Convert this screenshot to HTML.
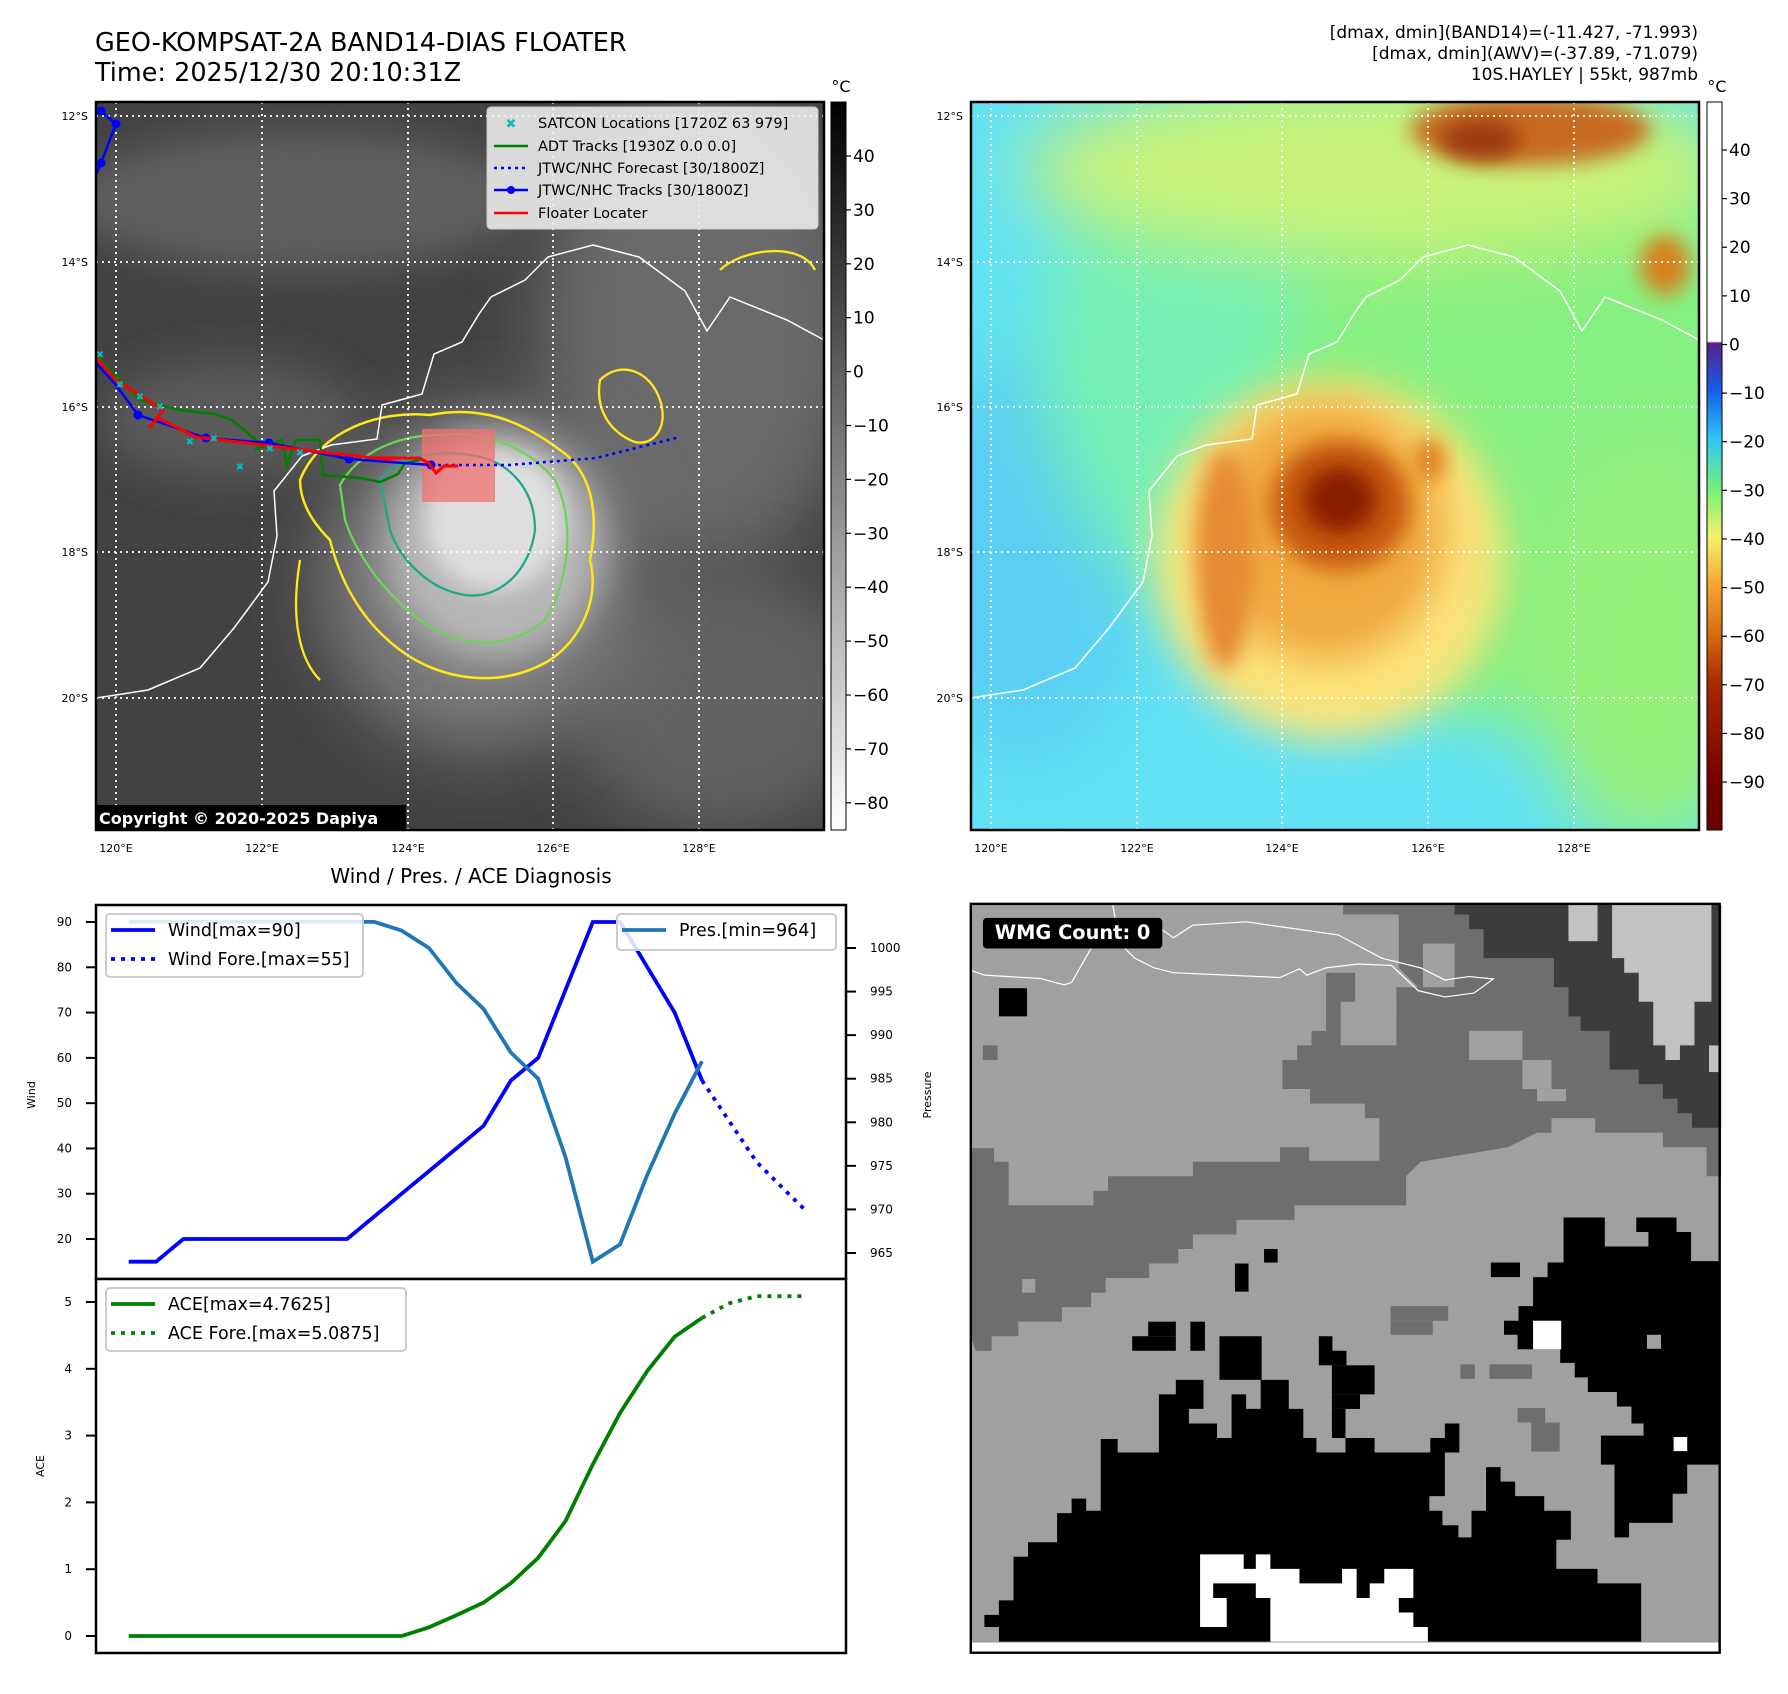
<!DOCTYPE html>
<html><head><meta charset="utf-8"><title>GEO-KOMPSAT-2A Floater</title>
<style>
html,body{margin:0;padding:0;background:#fff;}
body{width:1788px;height:1690px;overflow:hidden;font-family:"DejaVu Sans","Liberation Sans",sans-serif;}
svg text{font-family:"DejaVu Sans","Liberation Sans",sans-serif;}
</style></head>
<body>
<svg id="fig" width="1788" height="1690" viewBox="0 0 1788 1690" xmlns="http://www.w3.org/2000/svg">
<defs>
  <filter id="b10" x="-50%" y="-50%" width="200%" height="200%"><feGaussianBlur stdDeviation="10"/></filter>
  <filter id="b20" x="-50%" y="-50%" width="200%" height="200%"><feGaussianBlur stdDeviation="20"/></filter>
  <filter id="b35" x="-50%" y="-50%" width="200%" height="200%"><feGaussianBlur stdDeviation="35"/></filter>
  <clipPath id="clipL"><rect x="96" y="102" width="728" height="728"/></clipPath>
  <clipPath id="clipR"><rect x="971" y="102" width="728" height="728"/></clipPath>
  <linearGradient id="cbL" x1="0" y1="0" x2="0" y2="1">
    <stop offset="0" stop-color="#000"/><stop offset="1" stop-color="#fff"/>
  </linearGradient>
  <linearGradient id="cbR" x1="0" y1="0" x2="0" y2="1">
    <stop offset="0" stop-color="#fff"/><stop offset="0.329" stop-color="#fff"/>
    <stop offset="0.331" stop-color="#5a1f8f"/><stop offset="0.398" stop-color="#1560e8"/>
    <stop offset="0.464" stop-color="#30c8f5"/><stop offset="0.531" stop-color="#72f07a"/>
    <stop offset="0.598" stop-color="#f5f26a"/><stop offset="0.665" stop-color="#f5a530"/>
    <stop offset="0.732" stop-color="#d86a10"/><stop offset="0.798" stop-color="#a82a00"/>
    <stop offset="0.932" stop-color="#760000"/><stop offset="1" stop-color="#6a0000"/>
  </linearGradient>
</defs>

<!-- Titles -->
<text x="95" y="51" font-size="25.5" fill="#000">GEO-KOMPSAT-2A BAND14-DIAS FLOATER</text>
<text x="95" y="81" font-size="25.5" fill="#000">Time: 2025/12/30 20:10:31Z</text>
<g font-size="17" fill="#000" text-anchor="end">
  <text x="1698" y="38">[dmax, dmin](BAND14)=(-11.427, -71.993)</text>
  <text x="1698" y="59">[dmax, dmin](AWV)=(-37.89, -71.079)</text>
  <text x="1698" y="80">10S.HAYLEY | 55kt, 987mb</text>
</g>

<!-- LEFT MAP -->
<g clip-path="url(#clipL)">
  <rect x="96" y="102" width="728" height="728" fill="#424242"/>
  <ellipse cx="300" cy="200" rx="230" ry="70" fill="#686868" filter="url(#b20)" opacity="0.8"/>
  <ellipse cx="700" cy="330" rx="160" ry="240" fill="#6a6a6a" filter="url(#b35)"/>
  <ellipse cx="720" cy="700" rx="150" ry="130" fill="#646464" filter="url(#b35)"/>
  <ellipse cx="230" cy="420" rx="130" ry="60" fill="#5a5a5a" filter="url(#b20)"/>
  <ellipse cx="480" cy="580" rx="160" ry="170" fill="#7a7a7a" filter="url(#b35)"/>
  <ellipse cx="495" cy="545" rx="110" ry="115" fill="#b8b8b8" filter="url(#b20)"/>
  <ellipse cx="495" cy="520" rx="70" ry="70" fill="#dedede" filter="url(#b10)"/>
  <!-- contours -->
  <path d="M300,480 C320,430 380,410 430,415 C480,405 520,420 560,450 C590,470 600,510 590,560 C600,600 580,640 550,660 C500,690 440,680 400,650 C360,620 340,580 330,540 C310,520 300,500 300,480Z" fill="none" stroke="#ffe81a" stroke-width="2.5"/>
  <path d="M340,485 C360,450 400,435 440,435 C490,430 530,450 555,480 C575,520 570,580 545,620 C510,650 460,650 420,620 C380,590 355,550 345,520Z" fill="none" stroke="#6fd25a" stroke-width="2.3"/>
  <path d="M380,480 C400,455 440,450 470,455 C510,460 535,490 535,530 C530,570 500,600 465,595 C430,590 400,560 390,530Z" fill="none" stroke="#20a888" stroke-width="2.3"/>
  <path d="M600,380 C620,360 650,370 660,400 C670,430 650,450 630,440 C610,430 595,410 600,380Z" fill="none" stroke="#ffe81a" stroke-width="2.3"/>
  <path d="M300,560 C290,620 300,660 320,680" fill="none" stroke="#ffe81a" stroke-width="2.3"/>
  <path d="M720,270 C740,250 800,240 815,270" fill="none" stroke="#ffe81a" stroke-width="2.3"/>
  <!-- coastline -->
  <polyline points="96,698 148,690 200,668 234,628 268,582 277,536 274,491 302,456 331,445 377,439 382,405 422,394 434,354 462,342 479,314 491,297 525,280 548,257 593,245 639,257 685,291 707,331 730,297 787,320 824,340" fill="none" stroke="#fff" stroke-width="1.5"/>
  <!-- gridlines -->
  <g stroke="#fff" stroke-width="1.8" stroke-dasharray="2,4">
    <line x1="116" y1="102" x2="116" y2="830"/><line x1="262" y1="102" x2="262" y2="830"/><line x1="408" y1="102" x2="408" y2="830"/><line x1="553" y1="102" x2="553" y2="830"/><line x1="699" y1="102" x2="699" y2="830"/>
    <line x1="96" y1="116" x2="824" y2="116"/><line x1="96" y1="262" x2="824" y2="262"/><line x1="96" y1="407" x2="824" y2="407"/><line x1="96" y1="552" x2="824" y2="552"/><line x1="96" y1="698" x2="824" y2="698"/>
  </g>
  <!-- tracks -->
  <rect x="422" y="429" width="73" height="73" fill="#f07070" opacity="0.75"/>
  <polyline points="96,355 118,378 140,400 180,410 215,414 232,420 262,445 255,450 282,440 287,466 296,440 320,440 323,475 360,478 380,482 398,474 405,463 420,460" fill="none" stroke="#008000" stroke-width="2.5"/>
  <polyline points="96,363 116,385 138,415 206,438 269,443 349,459 431,465" fill="none" stroke="#0000ff" stroke-width="2.5"/>
  <g fill="#0000ff"><circle cx="138" cy="415" r="4.5"/><circle cx="206" cy="438" r="4.5"/><circle cx="269" cy="443" r="4.5"/><circle cx="349" cy="459" r="4.5"/><circle cx="431" cy="465" r="4.5"/><circle cx="101" cy="111" r="4.5"/><circle cx="116" cy="124" r="4.5"/><circle cx="101" cy="163" r="4.5"/></g>
  <polyline points="101,111 116,124 101,163 96,175" fill="none" stroke="#0000ff" stroke-width="2.5"/>
  <polyline points="431,465 509,465 596,458 680,437" fill="none" stroke="#0000ff" stroke-width="2.5" stroke-dasharray="3,4"/>
  <polyline points="96,357 116,380 163,410 149,428 158,418 196,437 263,445 329,453 393,460 379,458 419,458 429,463 436,473 444,466 458,466" fill="none" stroke="#ff0000" stroke-width="3"/>
  <g fill="#00c0c0" font-size="10" text-anchor="middle">
    <text x="100" y="358">✖</text><text x="120" y="388">✖</text><text x="140" y="400">✖</text><text x="160" y="410">✖</text><text x="190" y="445">✖</text><text x="214" y="442">✖</text><text x="240" y="470">✖</text><text x="270" y="452">✖</text><text x="300" y="456">✖</text>
  </g>
  <!-- legend -->
  <g>
    <rect x="487" y="107" width="331" height="122" rx="4" fill="#eee" fill-opacity="0.88" stroke="#ccc"/>
    <text x="511" y="128" font-size="13" fill="#10c0c0" text-anchor="middle">✖</text>
    <line x1="494" y1="146" x2="528" y2="146" stroke="#008000" stroke-width="2.5"/>
    <line x1="494" y1="168" x2="528" y2="168" stroke="#0000ff" stroke-width="2.5" stroke-dasharray="3,4"/>
    <line x1="494" y1="190" x2="528" y2="190" stroke="#0000ff" stroke-width="2.5"/><circle cx="511" cy="190" r="4" fill="#0000ff"/>
    <line x1="494" y1="213" x2="528" y2="213" stroke="#ff0000" stroke-width="2.5"/>
    <g font-size="14.5" fill="#000">
      <text x="538" y="128">SATCON Locations [1720Z 63 979]</text>
      <text x="538" y="151">ADT Tracks [1930Z 0.0 0.0]</text>
      <text x="538" y="173">JTWC/NHC Forecast [30/1800Z]</text>
      <text x="538" y="195">JTWC/NHC Tracks [30/1800Z]</text>
      <text x="538" y="218">Floater Locater</text>
    </g>
  </g>
  <g>
    <rect x="94" y="805" width="312" height="26" fill="#000"/>
    <text x="99" y="824" font-size="16" font-weight="bold" fill="#fff">Copyright © 2020-2025 Dapiya</text>
  </g>
</g>
<rect x="96" y="102" width="728" height="728" fill="none" stroke="#000" stroke-width="2.5"/>
<g font-size="11" fill="#000" text-anchor="end">
  <text x="88" y="120">12°S</text><text x="88" y="266">14°S</text><text x="88" y="411">16°S</text><text x="88" y="556">18°S</text><text x="88" y="702">20°S</text>
</g>
<g font-size="11" fill="#000" text-anchor="middle">
  <text x="116" y="852">120°E</text><text x="262" y="852">122°E</text><text x="408" y="852">124°E</text><text x="553" y="852">126°E</text><text x="699" y="852">128°E</text>
</g>
<g>
  <rect x="831" y="102" width="15" height="728" fill="url(#cbL)" stroke="#000" stroke-width="1"/>
  <text x="841" y="92" font-size="16" text-anchor="middle">°C</text>
  <g id="cbLticks" font-size="17" fill="#000"></g>
</g>

<!-- RIGHT MAP -->
<g clip-path="url(#clipR)">
  <rect x="971" y="102" width="728" height="728" fill="#62e2f4"/>
  <ellipse cx="1020" cy="560" rx="120" ry="200" fill="#58c8f2" filter="url(#b35)" opacity="0.7"/>
  <ellipse cx="1420" cy="360" rx="380" ry="330" fill="#74f0b4" filter="url(#b35)"/>
  <ellipse cx="1520" cy="420" rx="240" ry="300" fill="#86f080" filter="url(#b35)"/>
  <ellipse cx="1380" cy="170" rx="360" ry="90" fill="#c8f27a" filter="url(#b35)"/>
  <ellipse cx="1650" cy="650" rx="120" ry="200" fill="#96f07a" filter="url(#b35)"/>
  <ellipse cx="1530" cy="130" rx="120" ry="35" fill="#c86a20" filter="url(#b10)"/>
  <ellipse cx="1480" cy="140" rx="40" ry="20" fill="#9a3a08" filter="url(#b10)"/>
  <ellipse cx="1665" cy="265" rx="25" ry="30" fill="#d8801e" filter="url(#b10)"/>
  <ellipse cx="1330" cy="560" rx="175" ry="180" fill="#fbe47a" filter="url(#b20)"/>
  <ellipse cx="1325" cy="530" rx="120" ry="130" fill="#f0a840" filter="url(#b20)"/>
  <ellipse cx="1225" cy="560" rx="28" ry="110" fill="#e58a30" filter="url(#b10)"/>
  <ellipse cx="1340" cy="505" rx="70" ry="65" fill="#c65a10" filter="url(#b10)"/>
  <ellipse cx="1340" cy="500" rx="36" ry="33" fill="#8a1e04" filter="url(#b10)"/>
  <ellipse cx="1430" cy="460" rx="14" ry="22" fill="#e07818" filter="url(#b10)"/>
  <polyline points="971,698 1023,690 1075,668 1109,628 1143,582 1152,536 1149,491 1177,456 1206,445 1252,439 1257,405 1297,394 1309,354 1337,342 1354,314 1366,297 1400,280 1423,257 1468,245 1514,257 1560,291 1582,331 1605,297 1662,320 1699,340" fill="none" stroke="#fff" stroke-width="1.5"/>
  <g stroke="#fff" stroke-width="1.8" stroke-dasharray="2,4">
    <line x1="991" y1="102" x2="991" y2="830"/><line x1="1137" y1="102" x2="1137" y2="830"/><line x1="1282" y1="102" x2="1282" y2="830"/><line x1="1428" y1="102" x2="1428" y2="830"/><line x1="1574" y1="102" x2="1574" y2="830"/>
    <line x1="971" y1="116" x2="1699" y2="116"/><line x1="971" y1="262" x2="1699" y2="262"/><line x1="971" y1="407" x2="1699" y2="407"/><line x1="971" y1="552" x2="1699" y2="552"/><line x1="971" y1="698" x2="1699" y2="698"/>
  </g>
</g>
<rect x="971" y="102" width="728" height="728" fill="none" stroke="#000" stroke-width="2.5"/>
<g font-size="11" fill="#000" text-anchor="end">
  <text x="963" y="120">12°S</text><text x="963" y="266">14°S</text><text x="963" y="411">16°S</text><text x="963" y="556">18°S</text><text x="963" y="702">20°S</text>
</g>
<g font-size="11" fill="#000" text-anchor="middle">
  <text x="991" y="852">120°E</text><text x="1137" y="852">122°E</text><text x="1282" y="852">124°E</text><text x="1428" y="852">126°E</text><text x="1574" y="852">128°E</text>
</g>
<g>
  <rect x="1707" y="102" width="15" height="728" fill="url(#cbR)" stroke="#000" stroke-width="1"/>
  <text x="1717" y="92" font-size="16" text-anchor="middle">°C</text>
  <g id="cbRticks" font-size="17" fill="#000"></g>
</g>

<!-- BOTTOM LEFT CHART -->
<text x="471" y="883" font-size="20" text-anchor="middle">Wind / Pres. / ACE Diagnosis</text>
<g id="chart"></g>

<!-- BOTTOM RIGHT WMG -->
<svg x="965" y="900" width="760" height="760" viewBox="0 0 1568 1568">
  <rect x="12" y="10" width="1545" height="1545" fill="#fff"/>
  <rect x="12" y="10" width="1545" height="1522" fill="#a0a0a0"/>
  <polygon fill="#6e6e6e" points="630,10 1560,10 1560,570 1530,570 1530,510 1440,510 1440,480 1300,480 1300,450 1210,450 1210,480 1180,480 1120,510 940,540 910,570 910,630 680,630 680,660 560,660 560,690 470,690 470,720 440,720 440,750 380,750 380,780 290,780 290,810 260,810 260,840 200,840 200,870 110,870 110,900 55,900 55,930 22,930 12,900 12,512 60,512 60,540 90,540 90,630 265,630 265,600 295,600 295,570 470,570 470,540 650,540 650,510 710,510 710,538 855,538 855,450 825,450 825,420 712,420 712,390 655,390 655,330 685,330 685,300 715,300 715,270 745,270 745,150 805,150 805,240 890,240 890,180 935,180 895,140 895,30 780,30 780,10"/>
  <g fill="#a0a0a0"><rect x="1040" y="270" width="110" height="60"/><rect x="1150" y="330" width="60" height="60"/><rect x="1180" y="390" width="60" height="25"/><rect x="945" y="90" width="65" height="90"/><rect x="775" y="210" width="115" height="90"/><rect x="118" y="782" width="27" height="28"/><rect x="720" y="10" width="60" height="20"/></g>
  <polygon fill="#3c3c3c" points="1010,10 1560,10 1560,470 1500,470 1500,440 1470,440 1470,410 1440,410 1440,380 1390,380 1390,350 1330,350 1330,270 1270,270 1270,240 1245,240 1245,180 1215,180 1215,120 1070,120 1070,60 1040,60 1040,30 1010,30"/>
  <g fill="#c2c2c2"><rect x="1245" y="10" width="60" height="75"/><polygon points="1335,10 1540,10 1540,210 1505,210 1505,300 1475,300 1475,330 1445,330 1445,300 1420,300 1420,210 1390,210 1390,150 1360,150 1360,120 1335,120"/><rect x="1535" y="300" width="20" height="55"/></g>
  <g fill="#6e6e6e"><rect x="37" y="300" width="30" height="30"/><rect x="878" y="838" width="119" height="30"/><rect x="878" y="868" width="87" height="29"/><rect x="1022" y="958" width="30" height="30"/><rect x="1082" y="958" width="88" height="30"/><rect x="1140" y="1048" width="57" height="30"/><rect x="1168" y="1078" width="59" height="60"/></g>
  <g fill="#000">
    <polygon points="40,1500 40,1475 70,1475 70,1445 100,1445 100,1355 130,1355 130,1325 190,1325 190,1265 220,1265 220,1235 250,1235 250,1260 280,1260 280,1112 315,1112 315,1140 400,1140 400,1020 435,1020 435,990 492,990 492,1050 462,1050 462,1080 520,1080 520,1110 550,1110 550,1020 580,1020 580,1050 610,1050 610,990 668,990 668,1050 698,1050 698,1110 725,1110 725,1140 785,1140 785,1110 845,1110 845,1140 960,1140 960,1110 990,1110 990,1080 1020,1080 1020,1140 990,1140 990,1230 958,1230 958,1260 985,1260 985,1290 1018,1290 1018,1315 1045,1315 1045,1260 1075,1260 1075,1170 1105,1170 1105,1200 1135,1200 1135,1230 1195,1230 1195,1260 1250,1260 1250,1320 1220,1320 1220,1380 1305,1380 1305,1410 1395,1410 1395,1530 70,1530 70,1500"/>
    <polygon points="1235,655 1320,655 1320,715 1410,715 1410,685 1385,685 1385,655 1468,655 1468,685 1498,685 1498,745 1555,745 1555,1165 1490,1165 1490,1225 1460,1225 1460,1285 1370,1285 1370,1315 1340,1315 1340,1165 1312,1165 1312,1105 1400,1105 1400,1080 1375,1080 1375,1045 1345,1045 1345,1015 1285,1015 1285,985 1258,985 1258,955 1228,955 1228,927 1140,927 1140,897 1112,897 1112,868 1142,868 1142,838 1172,838 1172,778 1202,778 1202,748 1235,748"/>
    <rect x="70" y="182" width="58" height="58"/><rect x="525" y="900" width="87" height="90"/><rect x="345" y="900" width="90" height="30"/><rect x="378" y="870" width="57" height="30"/><rect x="465" y="870" width="30" height="60"/><rect x="557" y="750" width="28" height="58"/><rect x="617" y="720" width="28" height="28"/><rect x="1085" y="748" width="60" height="30"/><rect x="730" y="900" width="28" height="60"/><rect x="757" y="930" width="30" height="30"/><rect x="757" y="960" width="88" height="60"/><rect x="757" y="1020" width="58" height="30"/><rect x="757" y="1050" width="28" height="60"/>
  </g>
  <g fill="#a0a0a0"><rect x="1407" y="897" width="29" height="29"/></g>
  <g fill="#fff">
    <rect x="1172" y="868" width="58" height="59"/><rect x="1462" y="1108" width="28" height="29"/>
    <polygon points="485,1350 575,1350 575,1380 600,1380 600,1350 630,1350 630,1380 690,1380 690,1410 778,1410 778,1380 808,1380 808,1440 835,1440 835,1410 865,1410 865,1380 925,1380 925,1440 895,1440 895,1470 925,1470 925,1500 955,1500 955,1530 630,1530 630,1440 600,1440 600,1410 512,1410 512,1440 540,1440 540,1500 485,1500"/>
  </g>
  <polyline points="305,10 310,40 330,100 350,120 390,140 430,150 650,160 690,142 705,155 745,140 810,132 880,135 935,187 990,200 1050,192 1090,163 1040,158 990,165 960,150 940,140 860,120 770,72 580,45 470,52 430,78 405,60" fill="none" stroke="#fff" stroke-width="2.5"/>
  <polyline points="12,145 40,155 155,162 205,175 220,170 260,100" fill="none" stroke="#fff" stroke-width="2.5"/>
  <rect x="12" y="8" width="1545" height="1545" fill="none" stroke="#000" stroke-width="5"/>
  <g>
    <rect x="37" y="37" width="370" height="63" rx="8" fill="#000"/>
    <text x="222" y="80" font-size="40" font-weight="bold" fill="#fff" text-anchor="middle">WMG Count: 0</text>
  </g>
</svg>
</svg>

<script>
// ---- Diagnosis chart data ----
var obsIndex = [0,1,2,3,4,5,6,7,8,9,10,11,12,13,14,15,16,17,18,19,20,21];
var windObs = [15,15,20,20,20,20,20,20,20,25,30,35,40,45,55,60,75,90,90,80,70,55];
var presObs = [1003,1003,1003,1003,1003,1003,1003,1003,1003,1003,1002,1000,996,993,988,985,976,964,966,974,981,987];
var aceObs = [0,0,0,0,0,0,0,0,0,0,0,0.13,0.31,0.5,0.79,1.17,1.72,2.57,3.34,3.97,4.48,4.7625];
var fcstIndex = [21,22,23,24,24.85];
var windFcst = [55,46,37,31,26];
var aceFcst = [4.7625,4.98,5.0875,5.0875,5.0875];
var windTicks = [20,30,40,50,60,70,80,90];
var presTicks = [965,970,975,980,985,990,995,1000];
var aceTicks = [0,1,2,3,4,5];
var cbLTicks = [40,30,20,10,0,-10,-20,-30,-40,-50,-60,-70,-80];
var cbRTicks = [40,30,20,10,0,-10,-20,-30,-40,-50,-60,-70,-80,-90];

var NS = 'http://www.w3.org/2000/svg';
function xS(i){ return 128.7 + 27.3*i; }
function yW(v){ return 922 + (90 - v)*4.529; }
function yP(p){ return 948 + (1000 - p)*8.714; }
function yA(a){ return 1636 - a*66.8; }
function mk(parent, tag, attrs){
  var e = document.createElementNS(NS, tag);
  for (var k in attrs) e.setAttribute(k, attrs[k]);
  parent.appendChild(e); return e;
}
function pts(xs, ys, fy){ return xs.map(function(x,i){ return xS(x).toFixed(1)+','+fy(ys[i]).toFixed(1); }).join(' '); }

var ch = document.getElementById('chart');
var f1 = mk(ch,'rect',{x:96,y:905,width:750,height:374,fill:'#fff',stroke:'#000','stroke-width':2.5});


var f2 = mk(ch,'rect',{x:96,y:1279,width:750,height:374,fill:'#fff',stroke:'#000','stroke-width':2.5});



windTicks.forEach(function(v){
  mk(ch,'line',{x1:86,x2:96,y1:yW(v),y2:yW(v),stroke:'#000','stroke-width':2});
  var t = mk(ch,'text',{x:72,y:yW(v)+4,'font-size':12,'text-anchor':'end'});
  
  
  t.textContent = v;
});
presTicks.forEach(function(v){
  mk(ch,'line',{x1:846,x2:856,y1:yP(v),y2:yP(v),stroke:'#000','stroke-width':2});
  var t = mk(ch,'text',{x:870,y:yP(v)+4,'font-size':12});
  
  
  t.textContent = v;
});
aceTicks.forEach(function(v){
  mk(ch,'line',{x1:86,x2:96,y1:yA(v),y2:yA(v),stroke:'#000','stroke-width':2});
  var t = mk(ch,'text',{x:72,y:yA(v)+4,'font-size':12,'text-anchor':'end'});
  
  
  t.textContent = v;
});
var yl1 = mk(ch,'text',{x:0,y:0,'font-size':11,'text-anchor':'middle',transform:'translate(35,1095) rotate(-90)'});


yl1.textContent = 'Wind';
var yl2 = mk(ch,'text',{x:0,y:0,'font-size':11,'text-anchor':'middle',transform:'translate(931,1095) rotate(-90)'});


yl2.textContent = 'Pressure';
var yl3 = mk(ch,'text',{x:0,y:0,'font-size':11,'text-anchor':'middle',transform:'translate(44,1466) rotate(-90)'});


yl3.textContent = 'ACE';

var lw = mk(ch,'polyline',{points:pts(obsIndex,windObs,yW),fill:'none',stroke:'#0000ff','stroke-width':3.8});


var lwf = mk(ch,'polyline',{points:pts(fcstIndex,windFcst,yW),fill:'none',stroke:'#0000ff','stroke-width':3.8,'stroke-dasharray':'4,6'});


var lp = mk(ch,'polyline',{points:pts(obsIndex,presObs,yP),fill:'none',stroke:'#1f77b4','stroke-width':3.8});


var la = mk(ch,'polyline',{points:pts(obsIndex,aceObs,yA),fill:'none',stroke:'#008000','stroke-width':3.8});


var laf = mk(ch,'polyline',{points:pts(fcstIndex,aceFcst,yA),fill:'none',stroke:'#008000','stroke-width':3.8,'stroke-dasharray':'4,6'});



function legend(name, x, y, w, h, rows){
  var g = mk(ch,'g',{});
  
  
  mk(g,'rect',{x:x,y:y,width:w,height:h,rx:4,fill:'#fff','fill-opacity':0.85,stroke:'#ccc','stroke-width':2});
  rows.forEach(function(r,i){
    var cy = y + 16 + i*29;
    var a = {x1:x+5,x2:x+49,y1:cy,y2:cy,stroke:r[1],'stroke-width':3.8};
    if (r[2]) a['stroke-dasharray'] = '4,6';
    mk(g,'line',a);
    var t = mk(g,'text',{x:x+62,y:cy+6,'font-size':17.5});
    t.textContent = r[0];
  });
}
legend('wind-legend',106,914,257,63,[['Wind[max=90]','#0000ff',false],['Wind Fore.[max=55]','#0000ff',true]]);
legend('pressure-legend',617,914,219,36,[['Pres.[min=964]','#1f77b4',false]]);
legend('ace-legend',106,1288,300,63,[['ACE[max=4.7625]','#008000',false],['ACE Fore.[max=5.0875]','#008000',true]]);

var gL = document.getElementById('cbLticks');
cbLTicks.forEach(function(v){
  var y = 156 + (40 - v)*5.39;
  mk(gL,'line',{x1:846,x2:851,y1:y,y2:y,stroke:'#000','stroke-width':1.2});
  var t = mk(gL,'text',{x:853,y:y+6});
  
  
  t.textContent = (v<0?'\u2212':'') + Math.abs(v);
});
var gR = document.getElementById('cbRticks');
cbRTicks.forEach(function(v){
  var y = 150 + (40 - v)*4.862;
  mk(gR,'line',{x1:1722,x2:1727,y1:y,y2:y,stroke:'#000','stroke-width':1.2});
  var t = mk(gR,'text',{x:1729,y:y+6});
  
  
  t.textContent = (v<0?'\u2212':'') + Math.abs(v);
});
</script>
</body></html>
